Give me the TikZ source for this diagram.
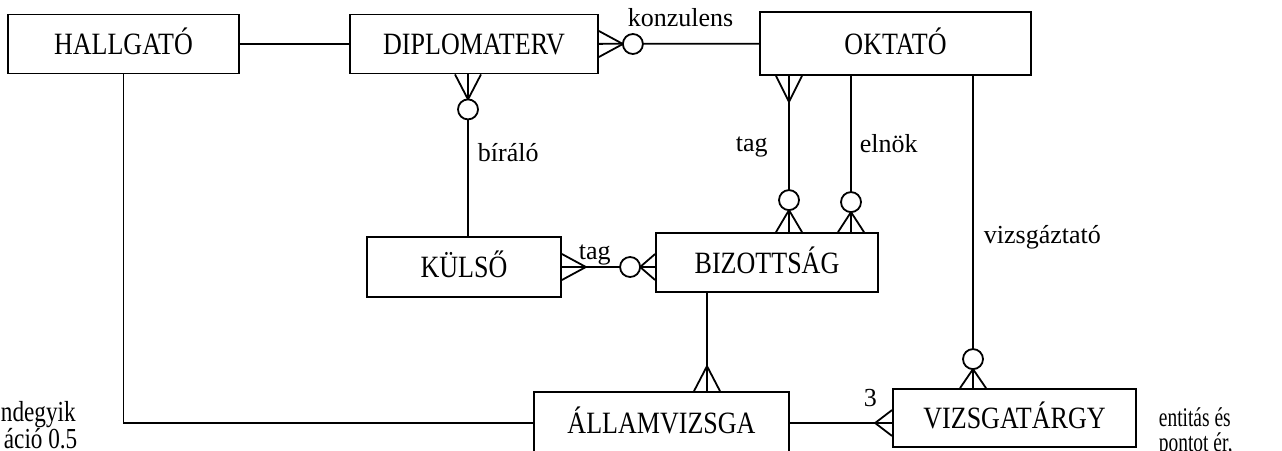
\documentclass[tikz,border=0pt]{standalone}
\usepackage{fontspec}
\setmainfont{Liberation Serif}
\newfontfamily\entfont{Liberation Serif}[FakeStretch=0.84]
\newfontfamily\rnotefont{Liberation Serif}[FakeStretch=0.72]
\newfontfamily\lnotefont{Liberation Serif}[FakeStretch=0.8]
\usetikzlibrary{calc}

\begin{document}
\begin{tikzpicture}[
  x=1pt, y=-1pt,
  line width=1.8pt,
  ent/.style={draw, minimum height=59, inner sep=0pt,
              text height=21pt, text depth=0pt,
              font=\entfont\fontsize{31}{34}\selectfont},
  lab/.style={anchor=base west, inner sep=0pt,
              font=\fontsize{26}{30}\selectfont},
  rnote/.style={anchor=base west, inner sep=0pt,
                font=\rnotefont\fontsize{27}{30}\selectfont},
  lnote/.style={anchor=base west, inner sep=0pt,
                font=\lnotefont\fontsize{29}{32}\selectfont},
  pics/crow/.style={code={\draw (0,-13) -- (#1,0) -- (0,13);}},
  pics/crowo/.style={code={\draw (0,-13) -- (#1,0) -- (0,13);
                           \draw[fill=white] (#1+10,0) circle[radius=10pt];}},
]
\useasboundingbox (0,0) rectangle (1282,450);
\clip (0,0) rectangle (1282,450);

%% Entities
\node[ent, minimum width=231] (hallg) at (123.5,44) {HALLGATÓ};
\node[ent, minimum width=248] (diplo) at (474,44) {DIPLOMATERV};
\node[ent, minimum width=271, minimum height=63] (oktato) at (895.5,43.5) {OKTATÓ};
\node[ent, minimum width=194, minimum height=60] (kulso) at (464,267) {KÜLSŐ};
\node[ent, minimum width=222] (bizott) at (767,262.5) {BIZOTTSÁG};
\node[ent, minimum width=255, minimum height=62] (allam) at (661.5,423) {ÁLLAMVIZSGA};
\node[ent, minimum width=243, minimum height=58] (vizsga) at (1014.5,418) {VIZSGATÁRGY};

%% Line positions
\coordinate (birx) at (468,0);
\coordinate (tagx) at (789,0);
\coordinate (elx)  at (851,0);
\coordinate (vzx)  at (973,0);
\coordinate (avx)  at (707,0);

%% Relationships
\draw (hallg) -- (diplo);
\draw (diplo) -- (oktato);
\draw (hallg) |- (allam);
\draw (birx |- diplo.south) -- (birx |- kulso.north);
\draw (tagx |- oktato.south) -- (tagx |- bizott.north);
\draw (elx |- oktato.south) -- (elx |- bizott.north);
\draw (vzx |- oktato.south) -- (vzx |- vizsga.north);
\draw (kulso.east) -- (kulso.east -| bizott.west);
\draw (avx |- bizott.south) -- (avx |- allam.north);
\draw (allam.east) -- (allam.east -| vizsga.west);

%% Crow's feet
\pic at (diplo.east) {crowo=24};
\pic[rotate=-90] at (birx |- diplo.south) {crowo=25};
\pic[rotate=-90] at (tagx |- oktato.south) {crow=26};
\pic[rotate=90] at (tagx |- bizott.north) {crowo=22};
\pic[rotate=90] at (elx |- bizott.north) {crowo=20};
\pic at (kulso.east) {crow=24};
\pic[rotate=180] at (kulso.east -| bizott.west) {crowo=15};
\pic[rotate=90] at (avx |- allam.north) {crow=25};
\pic[rotate=180] at (allam.east -| vizsga.west) {crow=17};
\pic[rotate=90] at (vzx |- vizsga.north) {crowo=19};

%% Labels
\node[lab] (konz)  at (627,26)  {konzulens};
\node[lab] (birl)  at (477,161) {bíráló};
\node[lab] (tag1)  at (735,151) {tag};
\node[lab] (elnok) at (859,152) {elnök};
\node[lab] (vizl)  at (983,243) {vizsgáztató};
\node[lab] (tag2)  at (578,259) {tag};
\node[lab] (three) at (863,406) {3};

%% Cut-off side text
\node[lnote] (lt1) at (0,421) {ndegyik};
\node[lnote] (lt2) at (3,448) {áció 0.5};
\node[rnote] (rt1) at (1158,426) {entitás és};
\node[rnote] (rt2) at (1158,451) {pontot ér,};

\end{tikzpicture}
\end{document}
